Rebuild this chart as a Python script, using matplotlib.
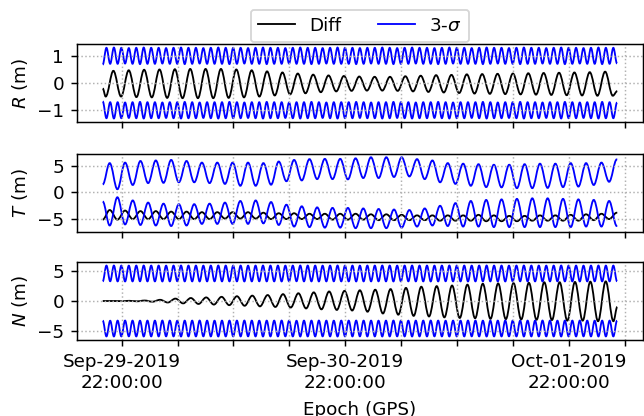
import numpy as np
import matplotlib
matplotlib.use("Agg")
import matplotlib.pyplot as plt
import matplotlib.dates as mdates
import matplotlib.ticker as mticker
from matplotlib.path import Path
from matplotlib.patches import PathPatch
from matplotlib.lines import Line2D

# time base: hours after the first epoch
START = np.datetime64("2019-09-29T19:58")
SPAN_H = 55.25
HALF_1REV = 0.825    # hours between extrema of the once-per-rev signals
HALF_2REV = 0.4002   # hours between extrema of the twice-per-rev sigma

# ---- R ----
R_DIFF_FIRST = 0.32
R_DIFF_START, R_DIFF_END = -0.20, -0.30
R_DIFF_TROUGH = [-0.50, -0.50, -0.52, -0.53, -0.55, -0.56, -0.56, -0.56, -0.55, -0.53,
                 -0.50, -0.46, -0.42, -0.38, -0.34, -0.31, -0.29, -0.28, -0.28, -0.29,
                 -0.31, -0.33, -0.35, -0.37, -0.39, -0.40, -0.41, -0.42, -0.43, -0.44,
                 -0.45, -0.46, -0.47, -0.47]
R_DIFF_PEAK = [0.45, 0.47, 0.49, 0.50, 0.51, 0.52, 0.52, 0.52, 0.50, 0.47,
               0.43, 0.39, 0.35, 0.31, 0.28, 0.26, 0.24, 0.23, 0.23, 0.25,
               0.27, 0.29, 0.30, 0.32, 0.33, 0.34, 0.35, 0.36, 0.37, 0.38,
               0.39, 0.40, 0.42]
SIG_R_TROUGH = [0.68, 0.71, 0.71, 0.72, 0.71, 0.70, 0.71, 0.71, 0.72, 0.71,
                0.71, 0.70, 0.71, 0.72, 0.71, 0.71, 0.71, 0.70, 0.71, 0.72,
                0.71, 0.71, 0.70, 0.71, 0.71, 0.72, 0.71, 0.71, 0.70, 0.71,
                0.72, 0.71, 0.71, 0.71, 0.70, 0.71, 0.72, 0.71, 0.71, 0.70,
                0.71, 0.71, 0.72, 0.71, 0.71, 0.70, 0.71, 0.72, 0.71, 0.71,
                0.71, 0.70, 0.71, 0.72, 0.71, 0.71, 0.70, 0.71, 0.71, 0.72,
                0.71, 0.71, 0.70, 0.71, 0.72, 0.71, 0.71, 0.70, 0.71, 0.72]
SIG_R_PEAK = [1.30, 1.31, 1.30, 1.29, 1.30, 1.31, 1.30, 1.30, 1.29, 1.30,
              1.31, 1.30, 1.30, 1.29, 1.30, 1.31, 1.30, 1.30, 1.30, 1.29,
              1.30, 1.31, 1.30, 1.30, 1.29, 1.30, 1.31, 1.30, 1.30, 1.29,
              1.30, 1.31, 1.30, 1.30, 1.29, 1.30, 1.30, 1.31, 1.30, 1.29,
              1.30, 1.31, 1.30, 1.30, 1.29, 1.30, 1.31, 1.30, 1.30, 1.29,
              1.30, 1.31, 1.30, 1.30, 1.29, 1.30, 1.31, 1.30, 1.30, 1.29,
              1.30, 1.31, 1.30, 1.30, 1.29, 1.30, 1.31, 1.30, 1.30]

# ---- T ----
T_FIRST = 0.75
T_DIFF_START, T_DIFF_END = -5.1, -3.8
T_DIFF_PEAK = [-3.3, -3.4, -3.5, -3.5, -3.6, -3.6, -3.7, -3.7, -3.7, -3.7,
               -3.8, -3.9, -3.9, -4.0, -4.0, -4.0, -4.0, -4.1, -4.1, -4.2,
               -4.3, -4.3, -4.3, -4.3, -4.2, -4.3, -4.4, -4.4, -4.3, -4.3,
               -4.2, -4.1, -4.0, -3.8]
T_DIFF_TROUGH = [-5.1, -5.0, -5.0, -5.0, -5.0, -5.0, -5.0, -4.9, -4.9, -4.9,
                 -5.0, -5.0, -5.0, -5.0, -5.1, -5.1, -5.1, -5.2, -5.2, -5.2,
                 -5.2, -5.3, -5.3, -5.3, -5.4, -5.4, -5.4, -5.3, -5.3, -5.3,
                 -5.3, -5.2, -5.0]
T_UP_START, T_UP_END = 1.5, 6.2
T_UP_PEAK = [5.5, 5.6, 5.9, 6.0, 6.1, 5.9, 5.6, 5.6, 5.6, 5.6,
             5.5, 5.8, 6.1, 6.25, 6.3, 6.3, 6.4, 6.6, 6.6, 6.6,
             6.25, 6.0, 5.5, 5.4, 5.3, 5.2, 5.2, 5.3, 5.4, 5.4,
             5.5, 5.5, 5.6, 6.2]
T_UP_TROUGH = [0.6, 1.4, 1.75, 1.8, 1.9, 1.9, 1.75, 1.6, 1.25, 1.25,
               1.45, 2.1, 2.25, 2.5, 2.5, 2.45, 2.7, 2.7, 2.9, 3.0,
               2.5, 1.9, 1.6, 1.25, 1.0, 0.95, 0.8, 0.8, 0.85, 1.0,
               1.1, 1.4, 2.0]
T_LO_START, T_LO_END = -1.7, -6.3
T_LO_TROUGH = [-6.2, -6.0, -6.1, -6.2, -6.3, -6.2, -5.9, -5.9, -5.9, -5.9,
               -5.8, -6.1, -6.4, -6.5, -6.6, -6.6, -6.7, -6.7, -6.7, -6.6,
               -6.4, -6.2, -6.3, -6.4, -6.4, -6.5, -6.5, -6.5, -6.5, -6.5,
               -6.5, -6.4, -6.4, -6.3]
T_LO_PEAK = [-0.9, -1.5, -1.9, -2.1, -2.2, -2.2, -2.1, -1.9, -1.6, -1.5,
             -1.8, -2.3, -2.6, -2.8, -2.9, -2.9, -3.0, -3.1, -3.2, -3.3,
             -3.0, -2.5, -2.0, -1.6, -1.4, -1.3, -1.2, -1.1, -1.1, -1.2,
             -1.3, -1.4, -1.6]

# ---- N ----
N_DIFF_FIRST = 1.21
N_DIFF_START, N_DIFF_END = 0.0, -1.0
N_DIFF_PEAK = [0.00, 0.03, 0.08, 0.20, 0.40, 0.50, 0.60, 0.70, 0.80, 0.90,
               1.00, 1.15, 1.30, 1.45, 1.60, 1.70, 1.80, 1.90, 2.00, 2.20,
               2.40, 2.50, 2.60, 2.75, 2.90, 2.95, 3.00, 3.05, 3.15, 3.15,
               3.20, 3.25, 3.30]
N_DIFF_TROUGH = [-0.02, -0.05, -0.12, -0.25, -0.40, -0.50, -0.60, -0.70, -0.80, -0.90,
                 -1.00, -1.10, -1.25, -1.40, -1.50, -1.60, -1.80, -2.10, -2.30, -2.50,
                 -2.60, -2.75, -2.85, -2.90, -3.00, -3.05, -3.10, -3.15, -3.20, -3.30,
                 -3.30, -3.40, -3.40]
SIG_N_TROUGH = [3.30, 3.32, 3.30, 3.29, 3.30, 3.31, 3.30, 3.30, 3.29, 3.30,
                3.32, 3.30, 3.30, 3.29, 3.30, 3.31, 3.30, 3.30, 3.30, 3.29,
                3.30, 3.31, 3.30, 3.30, 3.29, 3.30, 3.32, 3.30, 3.30, 3.29,
                3.30, 3.31, 3.30, 3.30, 3.29, 3.30, 3.30, 3.31, 3.30, 3.29,
                3.30, 3.31, 3.30, 3.30, 3.29, 3.30, 3.32, 3.30, 3.30, 3.29,
                3.30, 3.31, 3.30, 3.30, 3.29, 3.30, 3.31, 3.30, 3.30, 3.29,
                3.30, 3.31, 3.30, 3.30, 3.29, 3.30, 3.31, 3.30, 3.30, 3.30]
SIG_N_PEAK = [5.95, 5.96, 5.95, 5.94, 5.95, 5.96, 5.95, 5.95, 5.94, 5.95,
              5.96, 5.95, 5.95, 5.94, 5.95, 5.96, 5.95, 5.95, 5.95, 5.94,
              5.95, 5.96, 5.95, 5.95, 5.94, 5.95, 5.96, 5.95, 5.95, 5.94,
              5.95, 5.96, 5.95, 5.95, 5.94, 5.95, 5.95, 5.96, 5.95, 5.94,
              5.95, 5.96, 5.95, 5.95, 5.94, 5.95, 5.96, 5.95, 5.95, 5.94,
              5.95, 5.96, 5.95, 5.95, 5.94, 5.95, 5.96, 5.95, 5.95, 5.94,
              5.95, 5.96, 5.95, 5.95, 5.94, 5.95, 5.96, 5.95, 5.95]


def interleave(a, b):
    out = np.empty(len(a) + len(b))
    out[0::2] = a
    out[1::2] = b
    return out


def series(first_h, half_h, ext, start=None, end=None):
    hours = first_h + half_h * np.arange(len(ext))
    vals = np.asarray(ext, dtype=float)
    if start is not None:
        hours, vals = np.r_[0.0, hours], np.r_[start, vals]
    if end is not None:
        hours, vals = np.r_[hours, SPAN_H], np.r_[vals, end]
    t = START + (hours * 3600).astype("timedelta64[s]")
    return mdates.date2num(t), vals


K = 1 - 2 / np.pi  # bezier handle so each half swing looks like a half cosine


def wave(ax, x, y, color):
    verts = [(x[0], y[0])]
    codes = [Path.MOVETO]
    for i in range(1, len(x)):
        d = x[i] - x[i - 1]
        verts += [(x[i - 1] + K * d, y[i - 1]), (x[i] - K * d, y[i]), (x[i], y[i])]
        codes += [Path.CURVE4] * 3
    ax.add_patch(PathPatch(Path(verts, codes), fill=False, edgecolor=color, lw=1.0))


def fmt_epoch(v, _):
    d = mdates.num2date(round(v * 86400) / 86400)
    return d.strftime("%b-%d-%Y\n%H:%M:%S") if d.hour == 22 else ""


fig = plt.figure(figsize=(644 / 132, 416 / 132), dpi=132)
L, W, H = 77 / 644, 566 / 644, 78 / 416
ax_r = fig.add_axes([L, 0.7067, W, H])
ax_t = fig.add_axes([L, 0.4430, W, H], sharex=ax_r)
ax_n = fig.add_axes([L, 0.1827, W, H], sharex=ax_r)

# R
wave(ax_r, *series(R_DIFF_FIRST, HALF_1REV, interleave(R_DIFF_TROUGH, R_DIFF_PEAK),
                   R_DIFF_START, R_DIFF_END), "k")
x, s = series(0.0, HALF_2REV, interleave(SIG_R_TROUGH, SIG_R_PEAK))
wave(ax_r, x, s, "b")
wave(ax_r, x, -s, "b")

# T
wave(ax_t, *series(T_FIRST, HALF_1REV, interleave(T_DIFF_PEAK, T_DIFF_TROUGH),
                   T_DIFF_START, T_DIFF_END), "k")
wave(ax_t, *series(T_FIRST, HALF_1REV, interleave(T_UP_PEAK, T_UP_TROUGH),
                   T_UP_START, T_UP_END), "b")
wave(ax_t, *series(T_FIRST, HALF_1REV, interleave(T_LO_TROUGH, T_LO_PEAK),
                   T_LO_START, T_LO_END), "b")

# N
wave(ax_n, *series(N_DIFF_FIRST, HALF_1REV, interleave(N_DIFF_PEAK, N_DIFF_TROUGH),
                   N_DIFF_START, N_DIFF_END), "k")
x, s = series(0.0, HALF_2REV, interleave(SIG_N_TROUGH, SIG_N_PEAK))
wave(ax_n, x, s, "b")
wave(ax_n, x, -s, "b")

for ax, lab, step in [(ax_r, "$R$ (m)", 1), (ax_t, "$T$ (m)", 5), (ax_n, "$N$ (m)", 5)]:
    ax.autoscale_view()
    ax.set_ylabel(lab)
    ax.yaxis.set_major_locator(mticker.MultipleLocator(step))
    ax.grid(True, linestyle=":")

ax_n.xaxis.set_major_locator(mdates.HourLocator(byhour=[4, 10, 16, 22]))
ax_n.xaxis.set_major_formatter(mticker.FuncFormatter(fmt_epoch))
for ax in (ax_r, ax_t):
    ax.tick_params(labelbottom=False)
for lbl in ax_n.get_xticklabels():
    lbl.set_ha("center")
ax_n.set_xlabel("Epoch (GPS)", labelpad=5)

handles = [Line2D([], [], color="k", lw=1.0), Line2D([], [], color="b", lw=1.0)]
ax_r.legend(handles, ["Diff", "3-$\\sigma$"], loc="lower center",
            bbox_to_anchor=(0.5, 1.0), ncol=2, borderaxespad=0.1)

fig.savefig("out.png", dpi=132)
